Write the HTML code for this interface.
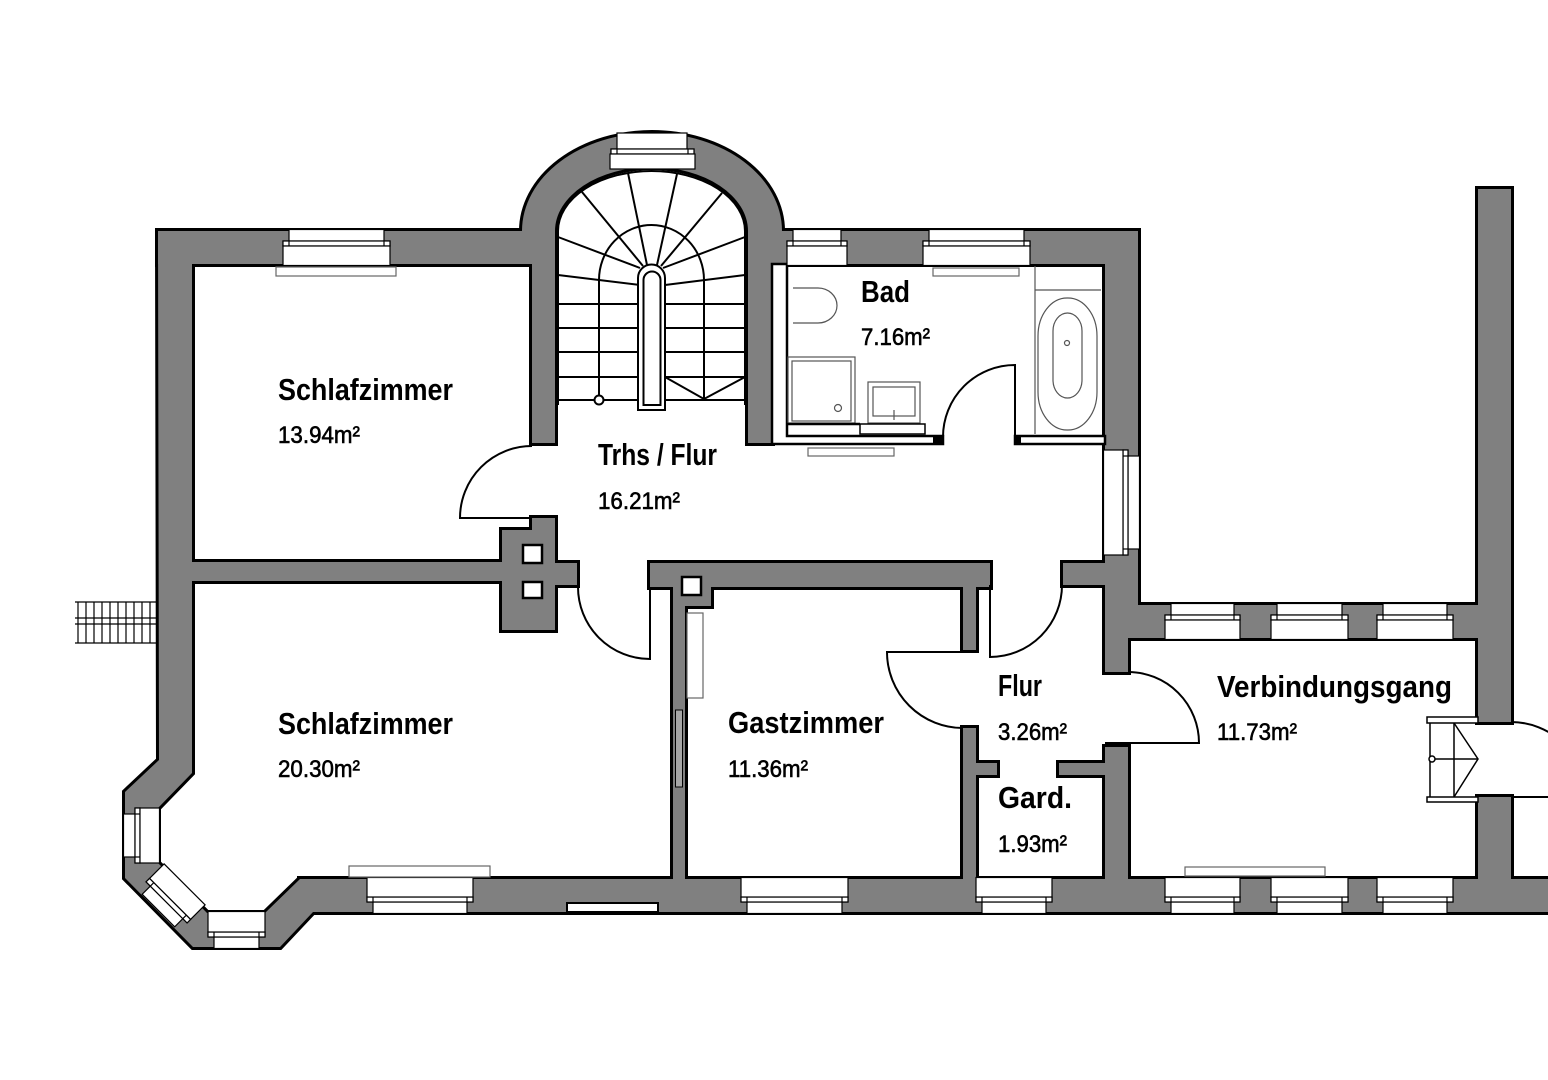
<!DOCTYPE html>
<html><head><meta charset="utf-8"><style>
html,body{margin:0;padding:0;background:#fff;}
svg{display:block;}
.t{font-family:"Liberation Sans",Arial,sans-serif;font-weight:bold;font-size:31px;fill:#000;}
.a{font-family:"Liberation Sans",Arial,sans-serif;font-weight:normal;font-size:24px;fill:#000;stroke:#000;stroke-width:0.6;}
.win rect{fill:#fff;stroke:#000;stroke-width:1.2;}
.ln{fill:none;stroke:#000;stroke-width:2;}
.fx{fill:none;stroke:#555;stroke-width:1.2;}
</style></head><body>
<svg width="1548" height="1080" viewBox="0 0 1548 1080" xmlns="http://www.w3.org/2000/svg">
<defs>
<g id="walls">
  <polygon points="158,231 192,231 192,773 158,808 158,863 207,913 265,913 300,879 320,879 320,912 313,912 280,947 193,947 125,878 125,792 159,760"/>
  <rect x="158" y="231" width="374" height="33"/>
  <rect x="532" y="231" width="23" height="212"/>
  <path d="M522,231 A130,98 0 0 1 782,231 L748,231 A96.5,64 0 0 0 555,231 Z"/>
  <rect x="748" y="231" width="24" height="212"/>
  <rect x="772" y="231" width="366" height="33"/>
  <rect x="1105" y="231" width="33" height="374"/>
  <rect x="1105" y="605" width="373" height="33"/>
  <rect x="1105" y="605" width="23" height="67"/>
  <rect x="1063" y="563" width="42" height="22"/>
  <rect x="1478" y="189" width="33" height="533"/>
  <rect x="1478" y="797" width="33" height="115"/>
  <rect x="300" y="879" width="1260" height="33"/>
  <rect x="192" y="562" width="312" height="19"/>
  <polygon points="532,518 555,518 555,563 577,563 577,585 555,585 555,630 502,630 502,530 532,530"/>
  <rect x="650" y="563" width="340" height="24"/>
  <rect x="963" y="587" width="13" height="63"/>
  <rect x="963" y="728" width="13" height="184"/>
  <rect x="976" y="763" width="21" height="12"/>
  <rect x="1059" y="763" width="46" height="12"/>
  <rect x="1105" y="747" width="23" height="165"/>
  <rect x="673" y="587" width="12" height="325"/>
  <rect x="673" y="587" width="38" height="19"/>
</g>
</defs>

<rect width="1548" height="1080" fill="#fff"/>

<!-- outside railing -->
<g stroke="#000" stroke-width="1.2" fill="none">
  <line x1="75" y1="602" x2="158" y2="602"/>
  <line x1="75" y1="618" x2="158" y2="618"/>
  <line x1="75" y1="624" x2="158" y2="624"/>
  <line x1="75" y1="643" x2="158" y2="643"/>
  <path d="M78,602V643M86,602V643M94,602V643M102,602V643M110,602V643M118,602V643M126,602V643M134,602V643M142,602V643M150,602V643"/>
</g>

<!-- walls: outline pass then fill pass -->
<use href="#walls" fill="none" stroke="#000" stroke-width="6"/>
<use href="#walls" fill="#808080" stroke="none"/>

<!-- lighter segment in Gastzimmer wall -->
<rect x="675.5" y="710" width="7" height="77" fill="#a6a6a6" stroke="#000" stroke-width="1"/>

<!-- chimney flues -->
<g fill="#fff" stroke="#000" stroke-width="2.5">
  <rect x="523" y="545" width="19" height="18"/>
  <rect x="523" y="582" width="19" height="16"/>
  <rect x="682" y="577" width="19" height="18"/>
</g>

<!-- bottom notch -->
<rect x="567" y="903" width="91" height="9" fill="#fff" stroke="#000" stroke-width="2"/>

<!-- bath thin partitions -->
<g fill="#fff" stroke="#000" stroke-width="2.5">
  <polygon points="772,264 787,264 787,436 943,436 943,444 772,444"/>
  <rect x="1015" y="436" width="90" height="8"/>
</g>
<rect x="933" y="435" width="10" height="10" fill="#000"/>
<rect x="1015" y="435" width="6" height="10" fill="#000"/>

<!-- windows -->
<g class="win">
  <g transform="translate(283,231)"><rect x="6" y="-1.5" width="95" height="11.5"/><rect x="0" y="10" width="107" height="5"/><rect x="0" y="10" width="6" height="5"/><rect x="101" y="10" width="6" height="5"/><rect x="0" y="15" width="107" height="19.5"/></g>
  <g transform="translate(787,231)"><rect x="6" y="-1.5" width="48" height="11.5"/><rect x="0" y="10" width="60" height="5"/><rect x="0" y="10" width="6" height="5"/><rect x="54" y="10" width="6" height="5"/><rect x="0" y="15" width="60" height="19.5"/></g>
  <g transform="translate(923,231)"><rect x="6" y="-1.5" width="95" height="11.5"/><rect x="0" y="10" width="107" height="5"/><rect x="0" y="10" width="6" height="5"/><rect x="101" y="10" width="6" height="5"/><rect x="0" y="15" width="107" height="19.5"/></g>
  <g transform="translate(1138,450) rotate(90)"><rect x="6" y="-1.5" width="93" height="11.5"/><rect x="0" y="10" width="105" height="5"/><rect x="0" y="10" width="6" height="5"/><rect x="99" y="10" width="6" height="5"/><rect x="0" y="15" width="105" height="19.5"/></g>
  <g transform="translate(1165,605)"><rect x="6" y="-1.5" width="63" height="11.5"/><rect x="0" y="10" width="75" height="5"/><rect x="0" y="10" width="6" height="5"/><rect x="69" y="10" width="6" height="5"/><rect x="0" y="15" width="75" height="19.5"/></g>
  <g transform="translate(1271,605)"><rect x="6" y="-1.5" width="65" height="11.5"/><rect x="0" y="10" width="77" height="5"/><rect x="0" y="10" width="6" height="5"/><rect x="71" y="10" width="6" height="5"/><rect x="0" y="15" width="77" height="19.5"/></g>
  <g transform="translate(1377,605)"><rect x="6" y="-1.5" width="64" height="11.5"/><rect x="0" y="10" width="76" height="5"/><rect x="0" y="10" width="6" height="5"/><rect x="70" y="10" width="6" height="5"/><rect x="0" y="15" width="76" height="19.5"/></g>
  <g transform="translate(367,912) scale(1,-1)"><rect x="6" y="-1.5" width="94" height="11.5"/><rect x="0" y="10" width="106" height="5"/><rect x="0" y="10" width="6" height="5"/><rect x="100" y="10" width="6" height="5"/><rect x="0" y="15" width="106" height="19.5"/></g>
  <g transform="translate(741,912) scale(1,-1)"><rect x="6" y="-1.5" width="95" height="11.5"/><rect x="0" y="10" width="107" height="5"/><rect x="0" y="10" width="6" height="5"/><rect x="101" y="10" width="6" height="5"/><rect x="0" y="15" width="107" height="19.5"/></g>
  <g transform="translate(976,912) scale(1,-1)"><rect x="6" y="-1.5" width="64" height="11.5"/><rect x="0" y="10" width="76" height="5"/><rect x="0" y="10" width="6" height="5"/><rect x="70" y="10" width="6" height="5"/><rect x="0" y="15" width="76" height="19.5"/></g>
  <g transform="translate(1165,912) scale(1,-1)"><rect x="6" y="-1.5" width="63" height="11.5"/><rect x="0" y="10" width="75" height="5"/><rect x="0" y="10" width="6" height="5"/><rect x="69" y="10" width="6" height="5"/><rect x="0" y="15" width="75" height="19.5"/></g>
  <g transform="translate(1271,912) scale(1,-1)"><rect x="6" y="-1.5" width="65" height="11.5"/><rect x="0" y="10" width="77" height="5"/><rect x="0" y="10" width="6" height="5"/><rect x="71" y="10" width="6" height="5"/><rect x="0" y="15" width="77" height="19.5"/></g>
  <g transform="translate(1377,912) scale(1,-1)"><rect x="6" y="-1.5" width="64" height="11.5"/><rect x="0" y="10" width="76" height="5"/><rect x="0" y="10" width="6" height="5"/><rect x="70" y="10" width="6" height="5"/><rect x="0" y="15" width="76" height="19.5"/></g>
  <!-- bay windows -->
  <g transform="translate(125,863) rotate(-90)"><rect x="6" y="-1.5" width="43" height="11.5"/><rect x="0" y="10" width="55" height="5"/><rect x="0" y="10" width="6" height="5"/><rect x="49" y="10" width="6" height="5"/><rect x="0" y="15" width="55" height="19.5"/></g>
  <g transform="translate(208,947) scale(1,-1)"><rect x="6" y="-1.5" width="45" height="11.5"/><rect x="0" y="10" width="57" height="5"/><rect x="0" y="10" width="6" height="5"/><rect x="51" y="10" width="6" height="5"/><rect x="0" y="15" width="57" height="20.5"/></g>
  <g transform="translate(180,930) rotate(-135)"><rect x="6" y="-1.5" width="46" height="11.5"/><rect x="0" y="10" width="58" height="5"/><rect x="0" y="10" width="6" height="5"/><rect x="52" y="10" width="6" height="5"/><rect x="0" y="15" width="58" height="20.5"/></g>
  <!-- tower window -->
  <rect x="617" y="133" width="70" height="16"/>
  <rect x="611" y="149" width="83" height="5"/>
  <rect x="611" y="149" width="6" height="5"/>
  <rect x="688" y="149" width="6" height="5"/>
  <rect x="610" y="154" width="85" height="15"/>
</g>

<!-- staircase -->
<g class="ln">
  <path d="M558,405 V231 A93.5,60 0 0 1 745,231 V405"/>
  <path d="M599,400 V280 A52.5,55 0 0 1 704,280 V400"/>
  <line x1="558" y1="237" x2="640" y2="268"/>
  <line x1="582" y1="192" x2="643" y2="266"/>
  <line x1="628" y1="173" x2="647" y2="265"/>
  <line x1="677" y1="174" x2="657" y2="265"/>
  <line x1="722" y1="193" x2="661" y2="266"/>
  <line x1="745" y1="237" x2="663" y2="268"/>
  <line x1="558" y1="275" x2="640" y2="285"/>
  <line x1="745" y1="275" x2="665" y2="285"/>
  <path d="M558,304H638M558,328H638M558,352H638M558,377H638M558,400H638"/>
  <path d="M665,304H745M665,328H745M665,352H745M665,377H745M665,400H745"/>
  <path d="M665,377 L704,399 L745,377"/>
  <circle cx="599" cy="400" r="4.5" fill="#fff"/>
  <path d="M638,410 V278 A13.5,13.5 0 0 1 665,278 V410 Z" fill="#fff"/>
  <path d="M643.5,405 V280 A8.5,8.5 0 0 1 660.5,280 V405 Z" fill="#fff"/>
</g>

<!-- doors -->
<g class="ln">
  <path d="M532,446 A72,72 0 0 0 460,518 L532,518"/>
  <path d="M578,587 A72,72 0 0 0 650,659 L650,587"/>
  <path d="M943,437 A72,72 0 0 1 1015,365 L1015,437"/>
  <path d="M1062,585 A72,72 0 0 1 990,657 L990,585"/>
  <path d="M963,728 A76,76 0 0 1 887,652 L963,652"/>
  <path d="M1128,672 A71,71 0 0 1 1199,743 L1105,743"/>
  <path d="M1511,722 A75,75 0 0 1 1586,797 L1511,797"/>
</g>

<!-- small outside stair at Verbindungsgang -->
<g fill="#fff" stroke="#000" stroke-width="1.5">
  <rect x="1427" y="717" width="51" height="6"/>
  <rect x="1427" y="797" width="51" height="5"/>
  <path d="M1430,723V797M1454,723V797M1430,759H1478" fill="none"/>
  <path d="M1454,723 L1478,759 L1454,797" fill="none"/>
  <circle cx="1432" cy="759" r="3"/>
</g>

<!-- sills / radiators -->
<g fill="#fff" stroke="#666" stroke-width="1.2">
  <rect x="276" y="267" width="120" height="9"/>
  <rect x="933" y="268" width="86" height="8"/>
  <rect x="808" y="448" width="86" height="8"/>
  <rect x="687" y="613" width="16" height="85"/>
  <rect x="349" y="866" width="141" height="11"/>
  <rect x="1185" y="867" width="140" height="9"/>
</g>

<!-- bath fixtures -->
<g class="fx">
  <path d="M793,288 H818 A19,17.5 0 0 1 818,323 H793"/>
  <rect x="788" y="357" width="67" height="66"/>
  <rect x="792" y="361" width="59" height="60"/>
  <circle cx="838" cy="408" r="3.5"/>
  <rect x="868" y="382" width="52" height="41"/>
  <rect x="873" y="387" width="42" height="29"/>
  <line x1="894" y1="410" x2="894" y2="420"/>
  <line x1="1035" y1="266" x2="1035" y2="434"/>
  <line x1="1035" y1="290" x2="1101" y2="290"/>
  <rect x="1038" y="298" width="59" height="132" rx="29" ry="38"/>
  <rect x="1053" y="313" width="29" height="85" rx="14.5" ry="18"/>
  <circle cx="1067" cy="343" r="2.5"/>
</g>
<line x1="787" y1="424" x2="860" y2="424" stroke="#000" stroke-width="2.5"/>
<rect x="860" y="424" width="65" height="10" fill="#fff" stroke="#000" stroke-width="1.5"/>

<!-- labels -->
<text class="t" x="278" y="400" textLength="175" lengthAdjust="spacingAndGlyphs">Schlafzimmer</text>
<text class="a" x="278" y="443" textLength="82" lengthAdjust="spacingAndGlyphs">13.94m²</text>
<text class="t" x="598" y="465" textLength="119" lengthAdjust="spacingAndGlyphs">Trhs / Flur</text>
<text class="a" x="598" y="509" textLength="82" lengthAdjust="spacingAndGlyphs">16.21m²</text>
<text class="t" x="861" y="302" textLength="49" lengthAdjust="spacingAndGlyphs">Bad</text>
<text class="a" x="861" y="345" textLength="69" lengthAdjust="spacingAndGlyphs">7.16m²</text>
<text class="t" x="278" y="734" textLength="175" lengthAdjust="spacingAndGlyphs">Schlafzimmer</text>
<text class="a" x="278" y="777" textLength="82" lengthAdjust="spacingAndGlyphs">20.30m²</text>
<text class="t" x="728" y="733" textLength="156" lengthAdjust="spacingAndGlyphs">Gastzimmer</text>
<text class="a" x="728" y="777" textLength="80" lengthAdjust="spacingAndGlyphs">11.36m²</text>
<text class="t" x="998" y="696" textLength="44" lengthAdjust="spacingAndGlyphs">Flur</text>
<text class="a" x="998" y="740" textLength="69" lengthAdjust="spacingAndGlyphs">3.26m²</text>
<text class="t" x="998" y="808" textLength="74" lengthAdjust="spacingAndGlyphs">Gard.</text>
<text class="a" x="998" y="852" textLength="69" lengthAdjust="spacingAndGlyphs">1.93m²</text>
<text class="t" x="1217" y="697" textLength="235" lengthAdjust="spacingAndGlyphs">Verbindungsgang</text>
<text class="a" x="1217" y="740" textLength="80" lengthAdjust="spacingAndGlyphs">11.73m²</text>
</svg>
</body></html>
